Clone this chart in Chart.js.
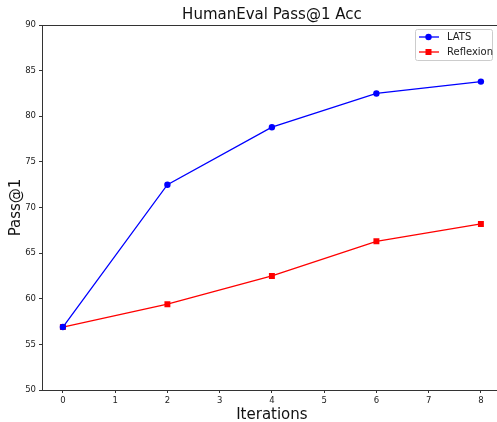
<!DOCTYPE html>
<html>
<head>
<meta charset="utf-8">
<script src="https://cdn.jsdelivr.net/npm/chart.js@4.4.1/dist/chart.umd.min.js"></script>
<style>
  html, body { margin: 0; padding: 0; background: #fff; overflow: hidden; }
  #wrap { width: 497px; height: 422px; overflow: hidden; }
</style>
</head>
<body>
<div id="wrap"><canvas id="lineChart" width="506" height="422"></canvas></div>
<script>
const iterations = [0, 2, 4, 6, 8];
const latsValues = [56.9, 72.5, 78.8, 82.5, 83.8];
const reflexionValues = [56.9, 59.4, 62.5, 66.3, 68.2];
const xTicks = [0, 1, 2, 3, 4, 5, 6, 7, 8];
const yTicks = [50, 55, 60, 65, 70, 75, 80, 85, 90];

Chart.defaults.font.family = "DejaVu Sans";
Chart.defaults.color = "#222";

const toPoints = (vals) => iterations.map((x, i) => ({ x: x, y: vals[i] }));

// matplotlib-style legend box in the upper right of the axes, plus top spine
const axesExtras = {
  id: "axesExtras",
  afterDraw(chart) {
    const { ctx, chartArea } = chart;
    ctx.save();
    ctx.strokeStyle = "#333";
    ctx.lineWidth = 1;
    ctx.beginPath();
    ctx.moveTo(chartArea.left, chartArea.top + 0.5);
    ctx.lineTo(chartArea.right, chartArea.top + 0.5);
    ctx.stroke();

    const bx = 415.5, by = 29.5, bw = 77, bh = 31;
    ctx.fillStyle = "rgba(255,255,255,0.8)";
    ctx.strokeStyle = "#ccc";
    ctx.beginPath();
    ctx.roundRect(bx, by, bw, bh, 2);
    ctx.fill();
    ctx.stroke();

    ctx.font = "10px 'DejaVu Sans'";
    ctx.textBaseline = "middle";
    chart.data.datasets.forEach((ds, i) => {
      const y = 37 + i * 15;
      ctx.strokeStyle = ds.borderColor;
      ctx.lineWidth = 1.3;
      ctx.beginPath();
      ctx.moveTo(419, y);
      ctx.lineTo(439, y);
      ctx.stroke();
      ctx.fillStyle = ds.backgroundColor;
      if (ds.pointStyle === "rect") {
        ctx.fillRect(425.5, y - 3, 6, 6);
      } else {
        ctx.beginPath();
        ctx.arc(428.5, y, 3.2, 0, Math.PI * 2);
        ctx.fill();
      }
      ctx.fillStyle = "#222";
      ctx.fillText(ds.label, 447, y);
    });
    ctx.restore();
  },
};

new Chart(document.getElementById("lineChart"), {
  type: "line",
  data: {
    datasets: [
      {
        label: "LATS",
        data: toPoints(latsValues),
        borderColor: "#0000ff",
        backgroundColor: "#0000ff",
        borderWidth: 1.3,
        pointStyle: "circle",
        pointRadius: 3.2,
        pointBorderWidth: 0,
      },
      {
        label: "Reflexion",
        data: toPoints(reflexionValues),
        borderColor: "#ff0000",
        backgroundColor: "#ff0000",
        borderWidth: 1.3,
        pointStyle: "rect",
        pointRadius: 4.2,
        pointBorderWidth: 0,
      },
    ],
  },
  options: {
    responsive: false,
    animation: false,
    plugins: {
      legend: { display: false },
      tooltip: { enabled: false },
      title: {
        display: true,
        text: "HumanEval Pass@1 Acc",
        fullSize: false,
        color: "#111",
        font: { size: 15, weight: "normal" },
        padding: { top: 6, bottom: 1 },
      },
    },
    scales: {
      x: {
        type: "linear",
        min: -0.4,
        max: 8.4,
        afterBuildTicks: (s) => { s.ticks = xTicks.map((v) => ({ value: v })); },
        afterFit: (s) => { s.height = 32; },
        grid: { drawOnChartArea: false, drawTicks: true, tickLength: 3, tickColor: "#333" },
        border: { color: "#333", width: 1 },
        ticks: { font: { size: 8.5 }, padding: 3, color: "#222", maxRotation: 0 },
        title: {
          display: true,
          text: "Iterations",
          color: "#111",
          font: { size: 15 },
          padding: { top: 0, bottom: -2 },
        },
      },
      y: {
        min: 50,
        max: 90,
        afterBuildTicks: (s) => { s.ticks = yTicks.map((v) => ({ value: v })); },
        afterFit: (s) => { s.width = 42; },
        grid: { drawOnChartArea: false, drawTicks: true, tickLength: 3, tickColor: "#333" },
        border: { color: "#333", width: 1 },
        ticks: { font: { size: 8.5 }, padding: 3, color: "#222" },
        title: {
          display: true,
          text: "Pass@1",
          color: "#111",
          font: { size: 15 },
          padding: { top: 7, bottom: 0 },
        },
      },
    },
  },
  plugins: [axesExtras],
});
</script>
</body>
</html>
